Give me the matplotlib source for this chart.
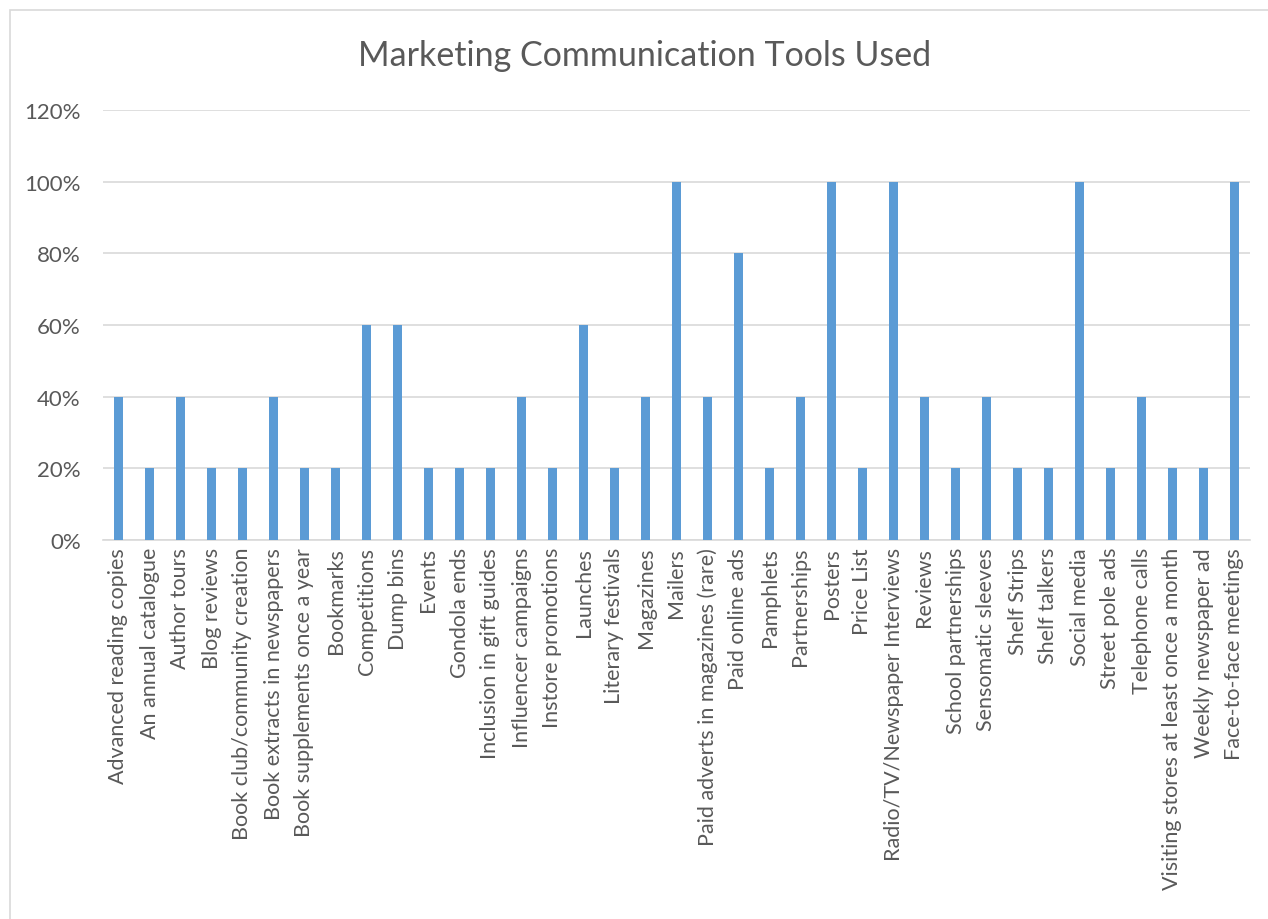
import matplotlib
matplotlib.use("Agg")
import matplotlib.pyplot as plt
from matplotlib.ticker import FuncFormatter
from matplotlib.patches import Rectangle

categories = [
    "Advanced reading copies", "An annual catalogue", "Author tours", "Blog reviews",
    "Book club/community creation", "Book extracts in newspapers", "Book supplements once a year",
    "Bookmarks", "Competitions", "Dump bins", "Events", "Gondola ends", "Inclusion in gift guides",
    "Influencer campaigns", "Instore promotions", "Launches", "Literary festivals", "Magazines",
    "Mailers", "Paid adverts in magazines (rare)", "Paid online ads", "Pamphlets", "Partnerships",
    "Posters", "Price List", "Radio/TV/Newspaper Interviews", "Reviews", "School partnerships",
    "Sensomatic sleeves", "Shelf Strips", "Shelf talkers", "Social media", "Street pole ads",
    "Telephone calls", "Visiting stores at least once a month", "Weekly newspaper ad",
    "Face-to-face meetings",
]
values = [0.4, 0.2, 0.4, 0.2, 0.2, 0.4, 0.2, 0.2, 0.6, 0.6, 0.2, 0.2, 0.2, 0.4, 0.2, 0.6, 0.2, 0.4,
          1.0, 0.4, 0.8, 0.2, 0.4, 1.0, 0.2, 1.0, 0.4, 0.2, 0.4, 0.2, 0.2, 1.0, 0.2, 0.4, 0.2, 0.2, 1.0]
yticks = [0, 0.2, 0.4, 0.6, 0.8, 1.0, 1.2]
title = "Marketing Communication Tools Used"

plt.rcParams['font.family'] = ['Lato', 'DejaVu Sans']
text_color = "#595959"

fig = plt.figure(figsize=(12.68, 9.2), dpi=100)
ax = fig.add_axes([103/1268, 1-541/920, (1250-103)/1268, (541-111)/920])

x = list(range(len(categories)))
ax.bar(x, values, width=0.31, color="#5B9BD5", zorder=3)
ax.set_xlim(-0.5, len(categories)-0.5)
ax.set_ylim(0, 1.2)
ax.set_yticks(yticks)
ax.yaxis.set_major_formatter(FuncFormatter(lambda v, p: f"{v*100:.0f}%"))
ax.set_xticks(x)
ax.set_xticklabels(categories, rotation=90, fontsize=15.5)
ax.grid(axis='y', color="#D9D9D9", linewidth=1.2, zorder=0)
for s in ['top', 'right', 'left']:
    ax.spines[s].set_visible(False)
ax.spines['bottom'].set_color("#D9D9D9")
ax.spines['bottom'].set_linewidth(1.2)
ax.tick_params(axis='both', length=0, colors=text_color)
ax.tick_params(axis='y', pad=16, labelsize=16)
ax.tick_params(axis='x', pad=5)

fig.text(645/1268, 1-56/920, title, ha='center', va='center', fontsize=24.5, color=text_color)

fig.patches.append(Rectangle((10/1268, -0.05), 1.1, 1.05-11/920,
                             transform=fig.transFigure, fill=False, edgecolor="#D9D9D9", linewidth=1.2))

fig.savefig("out.png", dpi=100)
